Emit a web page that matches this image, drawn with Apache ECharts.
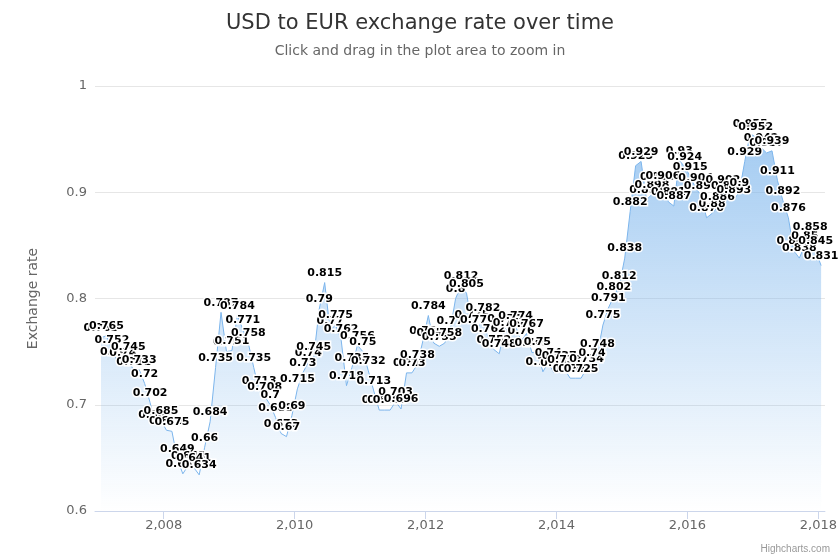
<!DOCTYPE html>
<html>
<head>
<meta charset="utf-8">
<script src="https://cdn.jsdelivr.net/npm/echarts@6/dist/echarts.min.js"></script>
<style>html,body{margin:0;padding:0;background:#fff}#chart{width:840px;height:560px}</style>
</head>
<body>
<div id="chart"></div>
<script>
// monthly rates, Jan 2007 .. Jan 2018
var startYear = 2007;
var rates = [
	0.763,0.765,0.752,0.741,0.740,0.745,0.731,0.733,0.720,0.702,0.681,0.685,
	0.676,0.675,0.649,0.635,0.643,0.641,0.634,0.660,0.684,0.735,0.787,0.750,
	0.751,0.784,0.771,0.758,0.735,0.713,0.708,0.700,0.688,0.673,0.670,0.690,
	0.715,0.730,0.740,0.745,0.790,0.815,0.770,0.775,0.762,0.718,0.735,0.756,
	0.750,0.732,0.713,0.695,0.695,0.695,0.703,0.696,0.730,0.730,0.738,0.760,
	0.784,0.758,0.755,0.758,0.770,0.800,0.812,0.805,0.775,0.771,0.782,0.762,
	0.752,0.748,0.772,0.768,0.774,0.760,0.767,0.749,0.750,0.731,0.740,0.730,
	0.737,0.733,0.725,0.725,0.725,0.734,0.740,0.748,0.775,0.791,0.802,0.812,
	0.838,0.882,0.925,0.929,0.893,0.898,0.905,0.906,0.891,0.887,0.930,0.924,
	0.915,0.904,0.897,0.876,0.880,0.886,0.902,0.897,0.893,0.900,0.929,0.955,
	0.952,0.942,0.937,0.939,0.911,0.892,0.876,0.845,0.838,0.850,0.858,0.845,
	0.831
];
var yearTicks = [2008,2010,2012,2014,2016,2018];

// x as fractional year (mid-month)
var seriesData = [];
for (var i = 0; i < rates.length; i++) {
	seriesData.push([startYear + (i + 0.5) / 12, rates[i]]);
}

var chart = echarts.init(document.getElementById('chart'));
var option = {
	animation: false,
	textStyle: {fontFamily: 'DejaVu Sans'},
	title: {
		text: 'USD to EUR exchange rate over time',
		subtext: 'Click and drag in the plot area to zoom in',
		left: 'center', top: 8, itemGap: 10,
		textStyle: {fontSize: 21, fontWeight: 'normal', color: '#333'},
		subtextStyle: {fontSize: 14, color: '#666'}
	},
	graphic: [{
		type: 'text', right: 10, bottom: 6,
		style: {text: 'Highcharts.com', fontSize: 10, fill: '#999'}
	}],
	grid: {left: 95, right: 15, top: 86, bottom: 49},
	xAxis: {
		type: 'value',
		min: 2006.95,
		max: 2018.1,
		splitLine: {show: false},
		axisLine: {show: true, onZero: false, lineStyle: {color: '#ccd6eb'}},
		axisTick: {show: true, customValues: yearTicks, length: 8, lineStyle: {color: '#ccd6eb'}},
		axisLabel: {customValues: yearTicks, color: '#666', fontSize: 13}
	},
	yAxis: {
		type: 'value', min: 0.6, max: 1, interval: 0.1,
		name: 'Exchange rate', nameLocation: 'middle', nameGap: 55,
		nameTextStyle: {color: '#666', fontSize: 14},
		axisLine: {show: false}, axisTick: {show: false},
		axisLabel: {color: '#666', fontSize: 13, formatter: function (v) { return +v.toFixed(1); }},
		splitLine: {lineStyle: {color: '#e6e6e6'}}
	},
	series: [{
		type: 'line',
		data: seriesData,
		showSymbol: true, symbolSize: 0,
		lineStyle: {width: 1, color: '#7cb5ec'},
		itemStyle: {color: '#7cb5ec'},
		areaStyle: {
			color: new echarts.graphic.LinearGradient(0, 0, 0, 1, [
				{offset: 0, color: 'rgba(124,181,236,1)'},
				{offset: 1, color: 'rgba(124,181,236,0)'}
			])
		},
		label: {
			show: true, position: 'top', distance: 4,
			fontSize: 11, fontWeight: 'bold', color: '#000',
			textBorderColor: '#fff', textBorderWidth: 3,
			formatter: function (p) { return p.value[1]; }
		}
	}]
};
chart.setOption(option);
</script>
</body>
</html>
